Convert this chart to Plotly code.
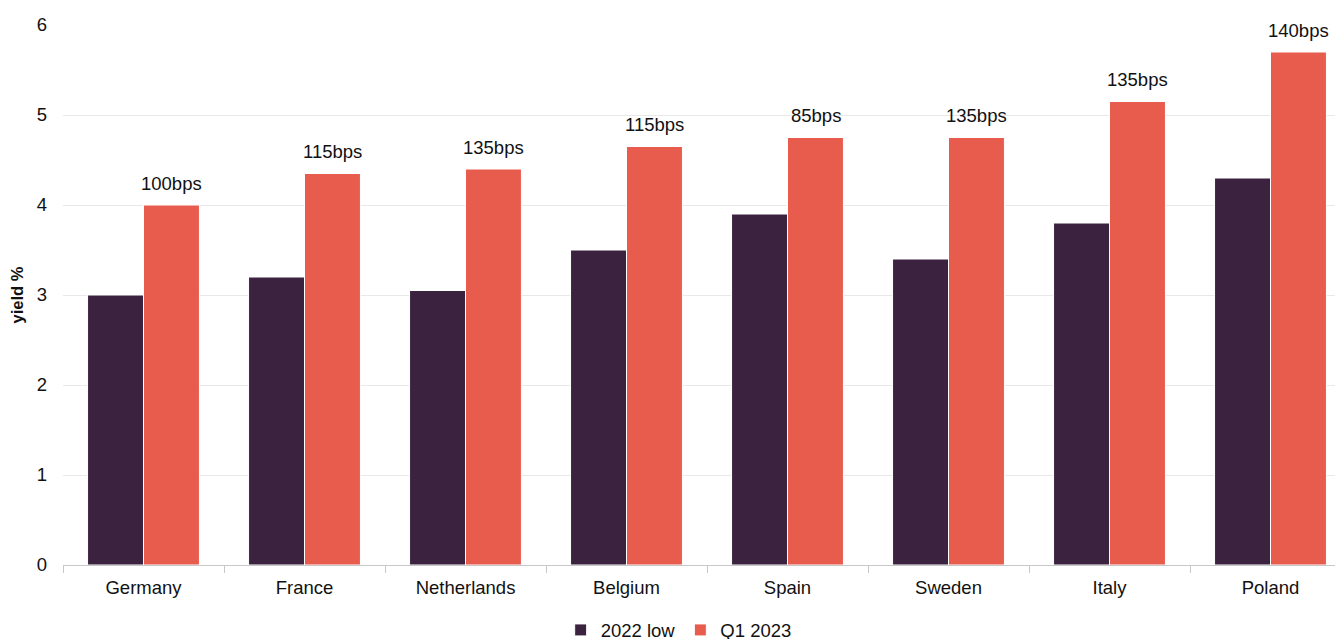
import plotly.graph_objects as go

countries = ["Germany", "France", "Netherlands", "Belgium", "Spain", "Sweden", "Italy", "Poland"]
low_2022 = [3.0, 3.2, 3.05, 3.5, 3.9, 3.4, 3.8, 4.3]
q1_2023 = [4.0, 4.35, 4.4, 4.65, 4.75, 4.75, 5.15, 5.7]
spread_labels = ["100bps", "115bps", "135bps", "115bps", "85bps", "135bps", "135bps", "140bps"]

DARK = "#3B2340"
RED = "#E85C4E"
FONT = "Liberation Sans, Arial, sans-serif"
FS = 18.5

fig = go.Figure()
fig.add_trace(go.Bar(name="2022 low", x=countries, y=low_2022,
                     marker=dict(color=DARK, line=dict(color="white", width=1))))
fig.add_trace(go.Bar(name="Q1 2023", x=countries, y=q1_2023,
                     marker=dict(color=RED, line=dict(color="white", width=1))))

for c, v, t in zip(countries, q1_2023, spread_labels):
    fig.add_annotation(x=c, y=v, text=t, showarrow=False, xshift=28, yshift=22,
                       font=dict(size=FS, color="#111111", family=FONT))

fig.update_layout(
    width=1343, height=639,
    margin=dict(l=55, r=0, t=17, b=82, autoexpand=False),
    paper_bgcolor="white", plot_bgcolor="white",
    barmode="group", bargap=0.305, bargroupgap=0,
    font=dict(family=FONT, size=FS, color="#111111"),
    showlegend=True,
    legend=dict(orientation="h", x=0.478, xanchor="center",
                yref="container", y=0.026, yanchor="middle",
                font=dict(size=FS), itemwidth=30, traceorder="normal"),
    xaxis=dict(range=[-0.5, 7.5], showgrid=False, showline=True, linecolor="#C8C8C8",
               linewidth=1, ticks="outside", tickson="boundaries", ticklen=7,
               tickcolor="#C8C8C8", tickfont=dict(size=FS), ticklabelstandoff=6,
               automargin=False),
    yaxis=dict(range=[0, 6], dtick=1, showgrid=True, gridcolor="#E8E8E8", zeroline=False,
               showline=False, tickfont=dict(size=FS), ticks="", ticklabelstandoff=15,
               automargin=False,
               title=dict(text="<b>yield %</b>", font=dict(size=16.5), standoff=8)),
)

fig.write_html("out.html")
